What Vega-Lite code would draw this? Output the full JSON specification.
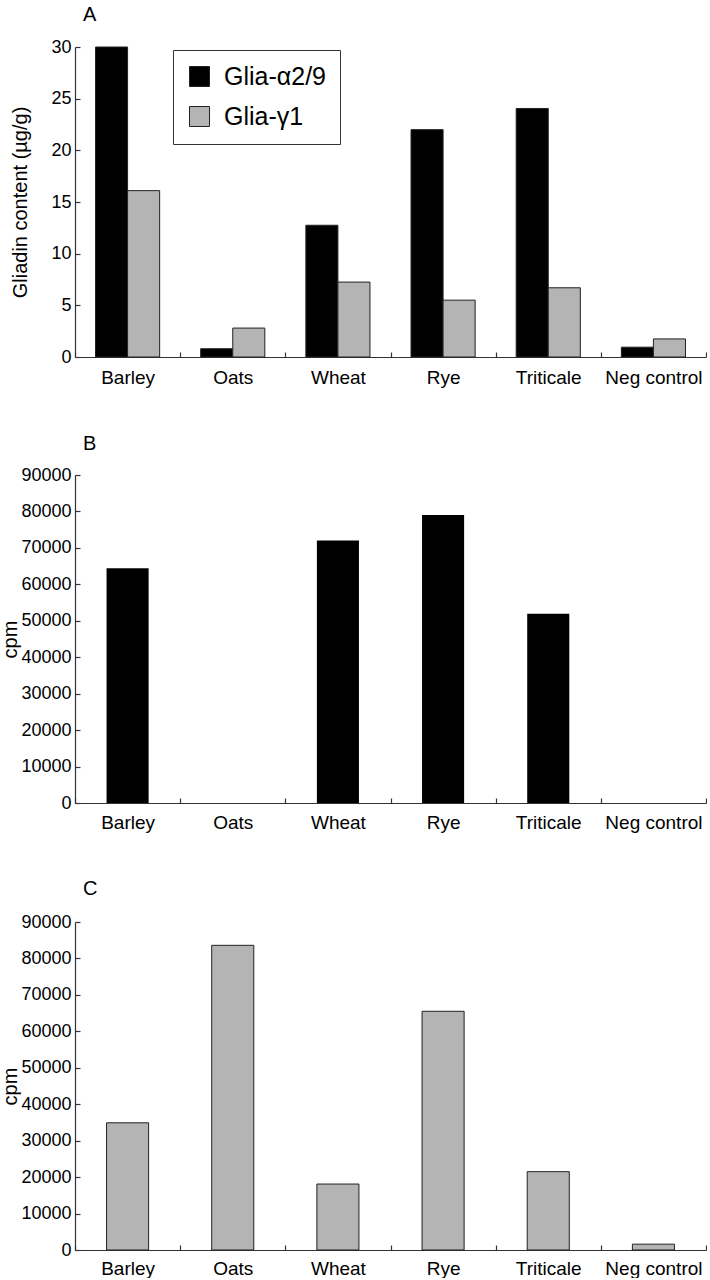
{
  "$schema": "https://vega.github.io/schema/vega-lite/v6.json",
  "padding": {"left": 0, "top": 5, "right": 0, "bottom": 0},
  "background": "white",
  "spacing": 47,
  "config": {
    "view": {"stroke": null},
    "font": "Liberation Sans",
    "axis": {
      "grid": false,
      "domainColor": "#333",
      "tickColor": "#333",
      "labelColor": "#000",
      "titleColor": "#000",
      "labelFont": "Liberation Sans",
      "titleFont": "Liberation Sans",
      "labelFontSize": 18,
      "titleFontSize": 20,
      "titleFontWeight": "normal",
      "domainWidth": 1.2,
      "tickWidth": 1.2
    }
  },
  "datasets": {
    "gliadin": [
      {"crop": "Barley", "series": "Glia-α2/9", "amount": 30.0},
      {"crop": "Barley", "series": "Glia-γ1", "amount": 16.1},
      {"crop": "Oats", "series": "Glia-α2/9", "amount": 0.8},
      {"crop": "Oats", "series": "Glia-γ1", "amount": 2.8},
      {"crop": "Wheat", "series": "Glia-α2/9", "amount": 12.75},
      {"crop": "Wheat", "series": "Glia-γ1", "amount": 7.25},
      {"crop": "Rye", "series": "Glia-α2/9", "amount": 22.0},
      {"crop": "Rye", "series": "Glia-γ1", "amount": 5.5},
      {"crop": "Triticale", "series": "Glia-α2/9", "amount": 24.05},
      {"crop": "Triticale", "series": "Glia-γ1", "amount": 6.7},
      {"crop": "Neg control", "series": "Glia-α2/9", "amount": 0.95},
      {"crop": "Neg control", "series": "Glia-γ1", "amount": 1.75}
    ],
    "alpha": [
      {"crop": "Barley", "cpm": 64400},
      {"crop": "Oats", "cpm": 0},
      {"crop": "Wheat", "cpm": 72000},
      {"crop": "Rye", "cpm": 79000},
      {"crop": "Triticale", "cpm": 51900},
      {"crop": "Neg control", "cpm": 0}
    ],
    "gamma": [
      {"crop": "Barley", "cpm": 34900},
      {"crop": "Oats", "cpm": 83600},
      {"crop": "Wheat", "cpm": 18100},
      {"crop": "Rye", "cpm": 65500},
      {"crop": "Triticale", "cpm": 21500},
      {"crop": "Neg control", "cpm": 1600}
    ]
  },
  "vconcat": [
    {
      "width": 631,
      "height": 310,
      "title": {"text": "A", "anchor": "start", "frame": "group", "fontSize": 20, "fontWeight": "normal", "dx": 8, "offset": 13},
      "data": {"name": "gliadin"},
      "mark": {"type": "bar", "stroke": "#222", "strokeWidth": 1},
      "encoding": {
        "x": {
          "field": "crop", "type": "nominal",
          "sort": ["Barley", "Oats", "Wheat", "Rye", "Triticale", "Neg control"],
          "scale": {"paddingInner": 0, "paddingOuter": 0},
          "axis": {"title": null, "labelAngle": 0, "tickBand": "extent", "tickSize": -5, "labelPadding": 16, "labelFontSize": 19}
        },
        "xOffset": {
          "field": "series", "type": "nominal",
          "scale": {"paddingOuter": 0.64, "paddingInner": 0}
        },
        "y": {
          "field": "amount", "type": "quantitative",
          "scale": {"domain": [0, 30], "nice": false},
          "axis": {"title": "Gliadin content (µg/g)", "values": [0, 5, 10, 15, 20, 25, 30], "tickSize": -5, "labelPadding": 9, "titlePadding": 20}
        },
        "fill": {
          "field": "series", "type": "nominal",
          "scale": {"domain": ["Glia-α2/9", "Glia-γ1"], "range": ["#000000", "#b4b4b4"]},
          "legend": {
            "title": null, "orient": "none", "legendX": 98, "legendY": 3,
            "symbolType": "square", "symbolSize": 400, "symbolStrokeColor": "#222", "symbolStrokeWidth": 1,
            "labelFontSize": 25, "labelColor": "#000", "labelOffset": 12,
            "rowPadding": 14, "padding": 14, "strokeColor": "#333"
          }
        }
      }
    },
    {
      "width": 631,
      "height": 328,
      "title": {"text": "B", "anchor": "start", "frame": "group", "fontSize": 20, "fontWeight": "normal", "dx": 8, "offset": 12},
      "data": {"name": "alpha"},
      "mark": {"type": "bar", "fill": "#000000", "width": {"band": 0.4}},
      "encoding": {
        "x": {
          "field": "crop", "type": "nominal",
          "sort": ["Barley", "Oats", "Wheat", "Rye", "Triticale", "Neg control"],
          "scale": {"paddingInner": 0, "paddingOuter": 0},
          "axis": {"title": null, "labelAngle": 0, "tickBand": "extent", "tickSize": -5, "labelPadding": 15, "labelFontSize": 19}
        },
        "y": {
          "field": "cpm", "type": "quantitative",
          "scale": {"domain": [0, 90000], "nice": false},
          "axis": {"title": "cpm", "format": "d", "values": [0, 10000, 20000, 30000, 40000, 50000, 60000, 70000, 80000, 90000], "tickSize": -5, "labelPadding": 9, "titlePadding": 0}
        }
      }
    },
    {
      "width": 631,
      "height": 328,
      "title": {"text": "C", "anchor": "start", "frame": "group", "fontSize": 20, "fontWeight": "normal", "dx": 8, "offset": 14},
      "data": {"name": "gamma"},
      "mark": {"type": "bar", "fill": "#b4b4b4", "stroke": "#222", "strokeWidth": 1, "width": {"band": 0.4}},
      "encoding": {
        "x": {
          "field": "crop", "type": "nominal",
          "sort": ["Barley", "Oats", "Wheat", "Rye", "Triticale", "Neg control"],
          "scale": {"paddingInner": 0, "paddingOuter": 0},
          "axis": {"title": null, "labelAngle": 0, "tickBand": "extent", "tickSize": -5, "labelPadding": 14, "labelFontSize": 19}
        },
        "y": {
          "field": "cpm", "type": "quantitative",
          "scale": {"domain": [0, 90000], "nice": false},
          "axis": {"title": "cpm", "format": "d", "values": [0, 10000, 20000, 30000, 40000, 50000, 60000, 70000, 80000, 90000], "tickSize": -5, "labelPadding": 9, "titlePadding": 0}
        }
      }
    }
  ]
}
